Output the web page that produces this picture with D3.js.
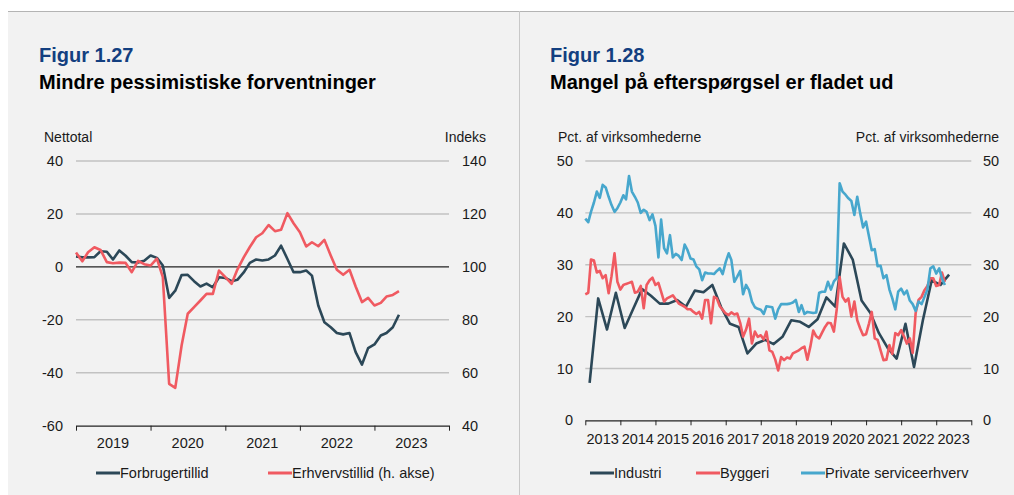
<!DOCTYPE html>
<html>
<head>
<meta charset="utf-8">
<script src="https://cdn.jsdelivr.net/npm/d3@7"></script>
<style>
  body { margin: 0; background: #fff; }
  svg text { font-family: "Liberation Sans", Arial, Helvetica, sans-serif; fill: #1a1a1a; }
</style>
</head>
<body>
<svg id="chart" width="1014" height="495"></svg>
<script>
// ---- data: figur 1.27 (monthly, jan 2019 - may 2023)
var forbrugertillid = [3.9, 3.6, 3.6, 3.7, 5.9, 5.7, 2.8, 6.2, 4.2, 1.8,
  1.7, 2.3, 4.3, 3.4, 0.5, -11.7, -9.0, -3.1, -3.0, -5.4,
  -7.4, -6.3, -7.7, -3.9, -4.2, -5.4, -4.9, -2.1, 1.5, 2.8,
  2.4, 2.8, 4.3, 8.0, 3.0, -2.0, -2.0, -1.4, -3.3, -14.6,
  -20.9, -22.8, -25.0, -25.5, -25.0, -32.2, -36.9, -30.7, -29.3, -25.9,
  -25.0, -22.8, -18.1];
// indeks, right axis
var erhvervstillid = [105.4, 102.1, 105.5, 107.4, 106.4, 101.8, 101.4, 101.6, 101.5, 98.0,
  102.3, 101.0, 100.5, 103.1, 96.1, 55.8, 54.3, 70.3, 82.3, 84.8,
  87.3, 89.8, 89.8, 98.6, 96.1, 93.6, 99.0, 103.6, 107.5, 111.2,
  112.7, 115.8, 113.5, 114.0, 120.3, 116.5, 113.1, 107.7, 109.3, 107.8,
  110.2, 104.3, 98.9, 97.0, 98.9, 92.6, 86.7, 88.3, 85.4, 86.4,
  88.8, 89.4, 90.8];
var fig1Start = new Date(2019, 0, 1);
var fig1Years = ["2019", "2020", "2021", "2022", "2023"];
var fig1LeftTicks = [-60, -40, -20, 0, 20, 40];
var fig1RightTicks = [40, 60, 80, 100, 120, 140];

// ---- data: figur 1.28
// industri is quarterly, q1 2013 - q2 2023
var industri = [7.2, 23.5, 17.5, 24.6, 17.8, 21.5, 25.3, 24.0, 22.5, 22.5,
  23.2, 21.9, 25.0, 24.7, 26.1, 21.8, 18.6, 18.0, 12.9, 14.8,
  15.5, 14.7, 16.1, 19.3, 19.0, 18.0, 19.5, 23.7, 21.9, 34.1,
  31.0, 23.1, 20.7, 16.8, 13.9, 11.9, 18.6, 10.3, 19.3, 27.0,
  26.1, 28.1];
// monthly, jan 2013 - apr 2023
var byggeri = [24.3, 24.6, 31.0, 30.8, 28.5, 28.8, 27.4, 28.0, 24.5, 27.8,
  32.2, 26.7, 25.2, 26.1, 26.3, 26.5, 26.7, 24.6, 24.8, 25.9,
  21.6, 26.1, 27.0, 27.5, 26.1, 26.5, 24.8, 22.9, 23.5, 23.8,
  24.1, 23.3, 22.5, 22.2, 21.9, 21.4, 21.4, 20.9, 20.5, 20.9,
  19.6, 23.2, 23.2, 18.7, 23.8, 23.5, 22.0, 21.3, 20.6, 20.3,
  20.8, 20.4, 20.6, 18.8, 16.1, 17.5, 19.6, 14.8, 17.1, 16.1,
  16.4, 15.6, 17.1, 13.5, 13.2, 11.7, 9.6, 12.2, 11.6, 12.1,
  11.9, 12.9, 13.2, 13.5, 13.9, 14.2, 11.7, 14.2, 17.3, 16.2,
  15.8, 16.9, 18.0, 18.8, 18.7, 17.1, 21.3, 27.6, 23.8, 22.9,
  23.5, 20.0, 22.9, 19.3, 17.7, 16.4, 16.6, 18.7, 20.9, 15.8,
  15.5, 13.5, 11.6, 11.7, 14.5, 12.8, 16.8, 16.4, 17.4, 16.1,
  14.8, 15.8, 13.0, 20.7, 23.2, 23.8, 25.1, 25.9, 27.4, 27.4,
  25.9, 26.1, 28.5, 26.7];
var service = [38.9, 38.2, 40.2, 42.0, 44.1, 42.9, 45.4, 44.9, 43.1, 41.5,
  40.2, 40.9, 42.0, 43.4, 42.6, 47.1, 44.1, 43.1, 42.0, 40.0,
  40.6, 40.2, 38.6, 39.7, 37.5, 31.4, 38.7, 33.2, 32.2, 35.7,
  31.4, 32.1, 31.7, 30.9, 33.9, 32.8, 31.2, 31.0, 29.7, 29.1,
  27.0, 28.5, 28.3, 28.3, 28.2, 28.8, 29.3, 28.2, 30.5, 32.2,
  30.9, 26.7, 27.7, 28.8, 24.3, 26.1, 25.1, 22.9, 21.8, 21.5,
  21.3, 20.5, 22.0, 21.9, 21.8, 19.6, 21.4, 22.4, 22.4, 22.4,
  22.5, 22.7, 23.2, 20.9, 22.2, 20.5, 20.9, 20.8, 20.7, 20.8,
  24.6, 24.8, 24.8, 26.7, 25.2, 26.8, 27.4, 45.7, 44.1, 43.5,
  42.8, 42.3, 39.6, 43.1, 39.9, 37.2, 38.3, 35.4, 32.8, 33.0,
  29.7, 29.8, 27.4, 28.0, 25.2, 23.5, 21.4, 24.8, 25.4, 24.3,
  25.0, 23.1, 22.4, 21.1, 22.9, 22.4, 23.8, 25.2, 29.3, 29.7,
  28.3, 29.3, 27.4, 26.1];
var fig2Years = ["2013", "2014", "2015", "2016", "2017", "2018", "2019", "2020", "2021", "2022", "2023"];
var fig2Ticks = [0, 10, 20, 30, 40, 50];

// colours
var colDark = "#2c4858",
    colRed = "#f05a61",
    colBlue = "#47a7cd",
    colGrid = "#c2c2c2",
    colTitle = "#133f80";

var svg = d3.select("#chart");

// panels
svg.append("rect").attr("x", 8).attr("y", 11).attr("width", 1006).attr("height", 484).attr("fill", "#f2f2f2");
svg.append("line").attr("x1", 8).attr("x2", 1014).attr("y1", 11.5).attr("y2", 11.5)
  .attr("stroke", "#b4b4b4").attr("stroke-width", 1);
svg.append("line").attr("x1", 519.5).attr("x2", 519.5).attr("y1", 11).attr("y2", 495)
  .attr("stroke", "#c8c8c8").attr("stroke-width", 1);

function titles(x, fig, title) {
  svg.append("text").attr("x", x).attr("y", 62).text(fig)
    .style("font-size", "20px").style("font-weight", "bold").style("fill", colTitle);
  svg.append("text").attr("x", x).attr("y", 89).text(title)
    .style("font-size", "20px").style("font-weight", "bold").style("fill", "#000");
}

function monthDates(start, n) {
  return d3.range(n).map(function(i){ return new Date(start.getFullYear(), start.getMonth() + i, 1); });
}

function drawSeries(g, dates, values, x, y, color) {
  var line = d3.line()
    .x(function(d, i){ return x(dates[i]); })
    .y(function(d){ return y(d); });
  g.append("path")
    .datum(values)
    .attr("d", line)
    .attr("fill", "none")
    .attr("stroke", color)
    .attr("stroke-width", 2.6)
    .attr("stroke-linejoin", "round");
}

function xAxis(g, x, yPos, yearLabels, labelY) {
  g.append("g")
    .attr("transform", "translate(0," + yPos + ")")
    .call(d3.axisBottom(x).ticks(d3.timeYear).tickSizeInner(5).tickSizeOuter(0).tickFormat(""))
    .call(function(a){
      a.select(".domain").attr("stroke", "#222").attr("stroke-width", 1.2);
      a.selectAll(".tick line").attr("stroke", "#222").attr("stroke-width", 1);
    });
  g.selectAll(".yearlbl")
    .data(yearLabels)
    .enter().append("text")
    .attr("x", function(d){ return x(new Date(+d, 6, 1)); })
    .attr("y", labelY)
    .attr("text-anchor", "middle")
    .style("font-size", "14.5px")
    .text(function(d){ return d; });
}

function legendItem(x, y, color, label) {
  svg.append("line").attr("x1", x).attr("x2", x + 24).attr("y1", y).attr("y2", y)
    .attr("stroke", color).attr("stroke-width", 3);
  svg.append("text").attr("x", x + 24).attr("y", y + 5).text(label).style("font-size", "14.5px");
}

// ================= Figur 1.27 =================
titles(39, "Figur 1.27", "Mindre pessimistiske forventninger");

var g1 = svg.append("g");
var x1 = d3.scaleTime().domain([fig1Start, new Date(2024, 0, 1)]).range([76, 449]);
var yL = d3.scaleLinear().domain([-60, 40]).range([425.7, 161]);
var yR = d3.scaleLinear().domain([40, 140]).range([425.7, 161]);

g1.selectAll(".grid")
  .data(fig1LeftTicks.filter(function(d){ return d > -60; }))
  .enter().append("line")
  .attr("x1", 76).attr("x2", 449)
  .attr("y1", function(d){ return yL(d); }).attr("y2", function(d){ return yL(d); })
  .attr("stroke", function(d){ return d === 0 ? "#222" : colGrid; })
  .attr("stroke-width", function(d){ return d === 0 ? 1.1 : 1.4; });

g1.selectAll(".ltick")
  .data(fig1LeftTicks)
  .enter().append("text")
  .attr("x", 63).attr("y", function(d){ return yL(d); })
  .attr("dy", "0.35em").attr("text-anchor", "end")
  .style("font-size", "14.5px")
  .text(function(d){ return d; });

g1.selectAll(".rtick")
  .data(fig1RightTicks)
  .enter().append("text")
  .attr("x", 462).attr("y", function(d){ return yR(d); })
  .attr("dy", "0.35em")
  .style("font-size", "14.5px")
  .text(function(d){ return d; });

svg.append("text").attr("x", 44).attr("y", 142).text("Nettotal").style("font-size", "14px");
svg.append("text").attr("x", 486).attr("y", 142).attr("text-anchor", "end").text("Indeks").style("font-size", "14px");

xAxis(g1, x1, 425.7, fig1Years, 448);

var fig1Dates = monthDates(fig1Start, forbrugertillid.length);
drawSeries(g1, fig1Dates, forbrugertillid, x1, yL, colDark);
drawSeries(g1, fig1Dates, erhvervstillid, x1, yR, colRed);

legendItem(96, 473, colDark, "Forbrugertillid");
legendItem(268, 473, colRed, "Erhvervstillid (h. akse)");

// ================= Figur 1.28 =================
titles(550, "Figur 1.28", "Mangel på efterspørgsel er fladet ud");

var g2 = svg.append("g");
var x2 = d3.scaleTime().domain([new Date(2013, 0, 1), new Date(2024, 0, 1)]).range([585.3, 971.3]);
var y2 = d3.scaleLinear().domain([0, 50]).range([420.3, 161]);

g2.selectAll(".grid")
  .data(fig2Ticks.filter(function(d){ return d > 0; }))
  .enter().append("line")
  .attr("x1", 585.3).attr("x2", 971.3)
  .attr("y1", function(d){ return y2(d); }).attr("y2", function(d){ return y2(d); })
  .attr("stroke", colGrid).attr("stroke-width", 1.4);

g2.selectAll(".ltick")
  .data(fig2Ticks)
  .enter().append("text")
  .attr("x", 573).attr("y", function(d){ return y2(d); })
  .attr("dy", "0.35em").attr("text-anchor", "end")
  .style("font-size", "14.5px")
  .text(function(d){ return d; });

g2.selectAll(".rtick")
  .data(fig2Ticks)
  .enter().append("text")
  .attr("x", 983).attr("y", function(d){ return y2(d); })
  .attr("dy", "0.35em")
  .style("font-size", "14.5px")
  .text(function(d){ return d; });

svg.append("text").attr("x", 558).attr("y", 142).text("Pct. af virksomhederne").style("font-size", "14px");
svg.append("text").attr("x", 999).attr("y", 142).attr("text-anchor", "end").text("Pct. af virksomhederne").style("font-size", "14px");

xAxis(g2, x2, 420.3, fig2Years, 443.5);

var quarterDates = d3.range(industri.length).map(function(k){ return new Date(2013, 1 + 3 * k, 15); });
var fig2Dates = monthDates(new Date(2013, 0, 1), service.length);
drawSeries(g2, quarterDates, industri, x2, y2, colDark);
drawSeries(g2, fig2Dates, byggeri, x2, y2, colRed);
drawSeries(g2, fig2Dates, service, x2, y2, colBlue);

legendItem(590, 473, colDark, "Industri");
legendItem(696, 473, colRed, "Byggeri");
legendItem(801, 473, colBlue, "Private serviceerhverv");
</script>
</body>
</html>
